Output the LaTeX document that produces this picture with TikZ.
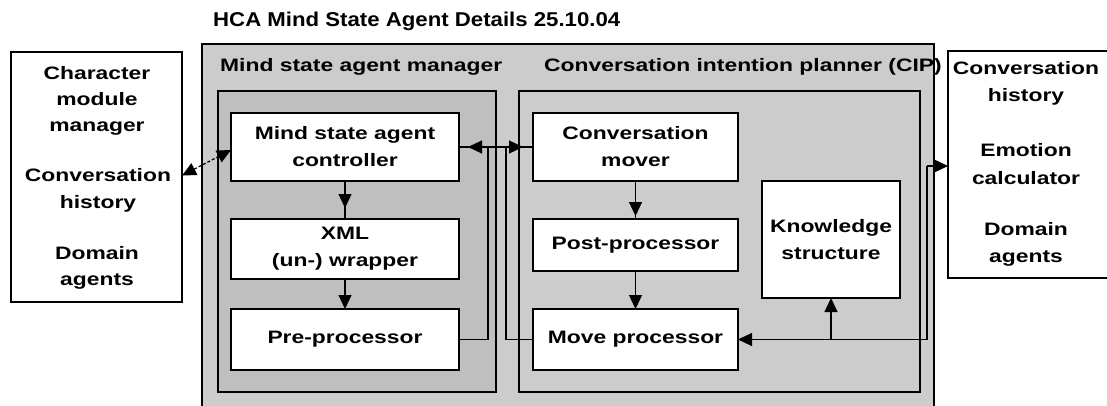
\documentclass[tikz,border=0pt]{standalone}
\usepackage{fontspec}
\setmainfont{Liberation Sans}
\newfontfamily\bodyfont{Liberation Sans}[FakeStretch=1.27]
\newfontfamily\titlefont{Liberation Sans}[FakeStretch=1.11]
\usetikzlibrary{arrows.meta}
\begin{document}
\begin{tikzpicture}[x=1pt,y=-1pt,
  bodyf/.style={font=\bodyfont\bfseries\fontsize{18}{27}\selectfont},
  box/.style={draw=black, line width=1.6pt, fill=white, inner sep=0pt, outer sep=0pt, align=center, bodyf},
  panel/.style={draw=black, line width=1.6pt, inner sep=0pt, outer sep=0pt},
  txt/.style={anchor=base, inner sep=0pt, bodyf},
  lbl/.style={anchor=base west, inner sep=0pt, bodyf},
  conn/.style={line width=1.2pt, draw=black},
  tip/.tip={Triangle[length=14pt,width=13pt]},
  arr/.style={conn, -tip},
  dblarr/.style={conn, tip-tip},
  dashedarr/.style={dblarr, dash pattern=on 3pt off 2pt}
]
\clip (0,0) rectangle (1107,406);
\fill[white] (0,0) rectangle (1107,406);

% title
\node[anchor=base west, inner sep=0pt, font=\titlefont\bfseries\fontsize{20}{24}\selectfont] (title) at (213,27) {HCA Mind State Agent Details 25.10.04};

% left box
\node[panel, fill=white, minimum width=171pt, minimum height=250pt] (lbox) at (96.5,177) {};
\node[txt] (lchar) at (97,80) {Character};
\node[txt] (lmod) at (97,106) {module};
\node[txt] (lman) at (97,132) {manager};
\node[txt] (lconv) at (98,182) {Conversation};
\node[txt] (lhist) at (98,208) {history};
\node[txt] (ldom) at (97,259) {Domain};
\node[txt] (lag) at (97,285) {agents};

% right box
\node[panel, fill=white, minimum width=164pt, minimum height=227pt] (rbox) at (1030,164.5) {};
\node[txt] (rconv) at (1026,75) {Conversation};
\node[txt] (rhist) at (1026,102) {history};
\node[txt] (remo) at (1026,157) {Emotion};
\node[txt] (rcalc) at (1026,184) {calculator};
\node[txt] (rdom) at (1026,235) {Domain};
\node[txt] (rag) at (1026,262) {agents};

% panels
\node[panel, fill=black!20, minimum width=732pt, minimum height=390pt] (outer) at (568,239) {};
\node[panel, fill=black!25, minimum width=278pt, minimum height=301pt] (msam) at (357,241.5) {};
\node[panel, fill=black!20, minimum width=401pt, minimum height=301pt] (cip) at (719.5,241.5) {};
\node[lbl] (msamlbl) at (220,72) {Mind state agent manager};
\node[lbl] (ciplbl) at (544,72) {Conversation intention planner (CIP)};

% inner boxes
\node[box, minimum width=228pt, minimum height=68pt] (ctrl) at (345,147) {Mind state agent\\controller};
\node[box, minimum width=228pt, minimum height=60pt] (xml) at (345,249) {XML\\(un-) wrapper};
\node[box, minimum width=228pt, minimum height=61pt] (pre) at (345,339.5) {Pre-processor};
\node[box, minimum width=205pt, minimum height=68pt] (mover) at (635.5,147) {Conversation\\mover};
\node[box, minimum width=205pt, minimum height=52pt] (post) at (635.5,245) {Post-processor};
\node[box, minimum width=205pt, minimum height=61pt] (move) at (635.5,339.5) {Move processor};
\node[box, minimum width=138pt, minimum height=117pt] (know) at (831,239.5) {Knowledge\\structure};

% connectors
\draw[conn] (ctrl) -- (xml);
\draw[arr, shorten >=11pt] (ctrl) -- (xml);
\draw[arr] (xml) -- (pre);
\draw[conn] (mover) -- (post);
\draw[arr, shorten >=3pt] (mover) -- (post);
\draw[arr] (post) -- (move);
\draw[conn] (ctrl.east) -- (mover.west);
\draw[dblarr, shorten <=9pt, shorten >=10pt] (ctrl.east) -- (mover.west);
\draw[conn] (pre.east) -| ([xshift=29pt]ctrl.east);
\draw[conn] (move.west) -| ([xshift=-27pt]mover.west);
\coordinate (bus) at (927,166);
\draw[arr] (bus) -- (rbox.west |- bus);
\draw[arr] (bus) |- (move.east);
\draw[arr] (know.south |- move.east) -- (know.south);
\draw[dashedarr] (lbox.east |- lconv.center) -- ([yshift=-3pt]ctrl.west);
\end{tikzpicture}
\end{document}
